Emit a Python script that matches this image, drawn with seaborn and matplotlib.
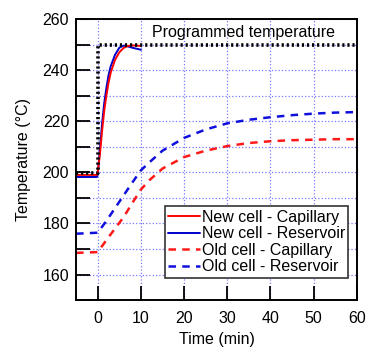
import matplotlib
matplotlib.use("Agg")
import matplotlib.pyplot as plt
import seaborn as sns
import pandas as pd
from matplotlib.ticker import MultipleLocator

# Data
prog_t = [-5, 0, 0, 60]
prog_temp = [199.8, 199.8, 250, 250]

new_t = [-5, -0.2, 0, 0.5, 1, 1.5, 2, 2.5, 3, 4, 5, 6, 7, 8, 9, 10]
new_cap = [199.0, 199.0, 200, 207, 216, 224, 230, 235, 239, 244, 247, 248.7, 249.5, 249.7, 249.6, 249.5]
new_res = [198.2, 198.2, 199, 209, 219, 227, 233, 238, 241.5, 246, 248.8, 249.6, 249.3, 248.8, 248.4, 248.0]

old_t = [-5, 0, 2, 4, 6, 8, 10, 12, 15, 20, 25, 30, 35, 40, 45, 50, 55, 60]
old_cap = [168.5, 168.8, 173.5, 178, 182.5, 188, 193.3, 197, 201.5, 206, 208.5, 210.3, 211.5, 212.2, 212.6, 212.8, 213, 213]
old_res = [176.0, 176.4, 181, 186, 191, 196, 200.8, 204, 208.5, 213.5, 216.8, 219.2, 220.6, 221.6, 222.4, 223, 223.4, 223.6]

sns.set_style("ticks")
plt.rcParams["font.family"] = ["Liberation Sans", "DejaVu Sans"]
plt.rcParams["text.color"] = "black"
plt.rcParams["axes.labelcolor"] = "black"
plt.rcParams["xtick.color"] = "black"
plt.rcParams["ytick.color"] = "black"
fs = 11.5

fig = plt.figure(figsize=(3.66, 3.47), dpi=100)
ax = fig.add_axes([0.208, 0.135, 0.767, 0.81])

ax.grid(True, which="both", color="#7878ff", linestyle=":", linewidth=0.9)
ax.set_axisbelow(True)

sns.lineplot(x=prog_t, y=prog_temp, ax=ax, color="black", linewidth=2.6,
             linestyle=(0, (0.6, 0.8)), sort=False, estimator=None, zorder=3)

sns.lineplot(x=old_t, y=old_cap, ax=ax, color="#ff1a1a", linewidth=1.8,
             linestyle=(0, (3, 2.5)), label="Old cell - Capillary", sort=False, estimator=None)
sns.lineplot(x=old_t, y=old_res, ax=ax, color="#1010dd", linewidth=1.8,
             linestyle=(0, (3, 2.5)), label="Old cell - Reservoir", sort=False, estimator=None)
sns.lineplot(x=new_t, y=new_res, ax=ax, color="#0000cc", linewidth=1.4,
             label="New cell - Reservoir", sort=False, estimator=None)
sns.lineplot(x=new_t, y=new_cap, ax=ax, color="#ff0000", linewidth=1.4,
             label="New cell - Capillary", sort=False, estimator=None)

ax.set_xlim(-5, 60)
ax.set_ylim(150, 260)
ax.xaxis.set_major_locator(MultipleLocator(10))
ax.yaxis.set_major_locator(MultipleLocator(20))
ax.yaxis.set_minor_locator(MultipleLocator(10))

ax.tick_params(axis="x", which="major", direction="in", length=10, width=1.3,
               labelsize=fs, top=False, color="black", pad=8)
ax.tick_params(axis="y", which="major", direction="in", length=10, width=1.3,
               labelsize=fs, right=False, color="black", pad=5)
ax.tick_params(axis="y", which="minor", direction="in", length=10, width=1.3)
for s in ax.spines.values():
    s.set_linewidth(1.4)
    s.set_color("black")

ax.set_xlabel("Time (min)", fontsize=fs, labelpad=4)
ax.set_ylabel("Temperature (\u00b0C)", fontsize=fs, labelpad=8)

ax.text(33.8, 254.6, "Programmed temperature", ha="center", va="center", fontsize=fs)

handles, labels = ax.get_legend_handles_labels()
order = ["New cell - Capillary", "New cell - Reservoir", "Old cell - Capillary", "Old cell - Reservoir"]
hmap = dict(zip(labels, handles))
leg = ax.legend([hmap[k] for k in order], order, loc="lower right",
                bbox_to_anchor=(0.97, 0.08), fontsize=fs, handlelength=2.0,
                handletextpad=0.1, borderpad=0.2, labelspacing=0.1,
                borderaxespad=0.0, fancybox=False, framealpha=1)
leg.get_frame().set_edgecolor("#333333")
leg.get_frame().set_linewidth(1.2)

fig.savefig("out.png", dpi=100)
